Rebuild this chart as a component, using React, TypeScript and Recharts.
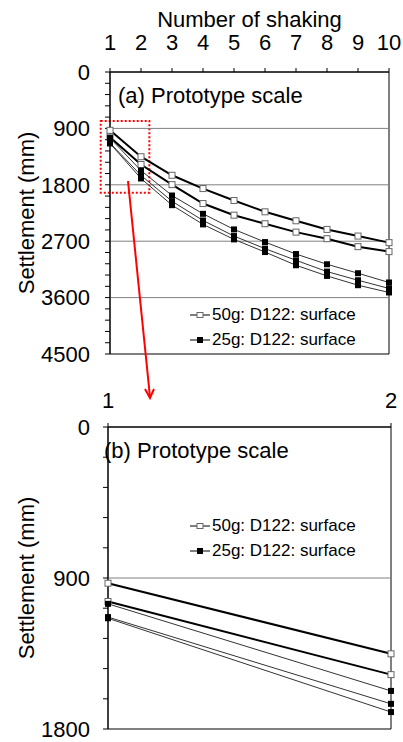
import { LineChart, Line, XAxis, YAxis, ReferenceLine, ReferenceArea, Legend } from "recharts";

// Number of shaking events
const shakes = [1, 2, 3, 4, 5, 6, 7, 8, 9, 10];

// Settlement (mm)
const open50a = [931, 1352, 1648, 1860, 2051, 2231, 2374, 2512, 2618, 2723];
const open50b = [1040, 1476, 1797, 2099, 2285, 2421, 2555, 2660, 2787, 2866];
const fill25a = [1054, 1573, 1971, 2263, 2512, 2714, 2905, 3068, 3211, 3359];
const fill25b = [1133, 1650, 2062, 2369, 2618, 2819, 3005, 3185, 3323, 3454];
const fill25c = [1140, 1699, 2125, 2432, 2671, 2873, 3084, 3254, 3402, 3518];

const topMajor = [0, 900, 1800, 2700, 3600, 4500];
const bottomMajor = [0, 900, 1800];
const minorStep = 180;

const legendNames = ["50g: D122: surface", "25g: D122: surface"];

const rows = shakes.map((n, i) => ({
  n,
  a: open50a[i],
  b: open50b[i],
  c: fill25a[i],
  d: fill25b[i],
  e: fill25c[i],
}));
const zoomRows = rows.slice(0, 2);

const withMinor = (major: number[]) => {
  const max = major[major.length - 1];
  const out: number[] = [];
  for (let v = 0; v <= max; v += minorStep) out.push(v);
  return out;
};

const font = "'Liberation Sans', Arial, sans-serif";

const OpenSquare = (props: any) => {
  const { cx, cy } = props;
  if (cx == null || cy == null) return <g key={`o-${cx}-${cy}`} />;
  return (
    <rect key={`o-${cx}-${cy}`} x={cx - 3} y={cy - 3} width={6} height={6} fill="#fff" stroke="#666" strokeWidth={1} />
  );
};

const FilledSquare = (props: any) => {
  const { cx, cy } = props;
  if (cx == null || cy == null) return <g key={`f-${cx}-${cy}`} />;
  return <rect key={`f-${cx}-${cy}`} x={cx - 3} y={cy - 3} width={6} height={6} fill="#000" />;
};

const LegendBox = ({ payload }: any) => {
  const items = (payload || [])
    .filter((e: any) => e.type !== "none" && legendNames.includes(e.value))
    .sort((p: any, q: any) => legendNames.indexOf(p.value) - legendNames.indexOf(q.value));
  return (
    <div style={{ fontFamily: font, fontSize: 17, color: "#000" }}>
      {items.map((entry: any) => {
        const open = entry.value === legendNames[0];
        return (
          <div key={entry.value} style={{ display: "flex", alignItems: "center", height: 24.5 }}>
            <svg width={21} height={10} style={{ marginRight: 1 }}>
              <line x1={0} y1={5} x2={20} y2={5} stroke="#000" strokeWidth={1} />
              {open ? (
                <rect x={7} y={2.5} width={6} height={5} fill="#fff" stroke="#666" />
              ) : (
                <rect x={7} y={2} width={6} height={6} fill="#000" />
              )}
            </svg>
            <span>{entry.value}</span>
          </div>
        );
      })}
    </div>
  );
};

function Series() {
  return [
    <Line key="a" dataKey="a" name={legendNames[0]} stroke="#000" strokeWidth={2} dot={OpenSquare} isAnimationActive={false} />,
    <Line key="b" dataKey="b" legendType="none" stroke="#000" strokeWidth={2} dot={OpenSquare} isAnimationActive={false} />,
    <Line key="c" dataKey="c" name={legendNames[1]} stroke="#333" strokeWidth={1} dot={FilledSquare} isAnimationActive={false} />,
    <Line key="d" dataKey="d" legendType="none" stroke="#333" strokeWidth={1} dot={FilledSquare} isAnimationActive={false} />,
    <Line key="e" dataKey="e" legendType="none" stroke="#333" strokeWidth={1} dot={FilledSquare} isAnimationActive={false} />,
  ];
}

const tickStyle = { fill: "#000", fontSize: 22 };

export default function App() {
  const topTicks = withMinor(topMajor);
  const bottomTicks = withMinor(bottomMajor);
  const fmt = (major: number[]) => (v: number) => (major.includes(v) ? String(v) : "");

  return (
    <div style={{ position: "absolute", left: 0, top: 0, width: 403, height: 742, background: "#fff", fontFamily: font }}>
      <div style={{ position: "absolute", left: 0, top: 0 }}>
        <LineChart width={403} height={372} data={rows} margin={{ top: 0, right: 14, bottom: 18, left: 0 }}>
          <XAxis
            dataKey="n"
            type="number"
            orientation="top"
            domain={[1, 10]}
            ticks={shakes}
            interval={0}
            height={72}
            stroke="#000"
            tick={tickStyle}
            tickSize={4}
            tickMargin={18}
            label={{ value: "Number of shaking", position: "insideTop", offset: 11, fill: "#000", fontSize: 22 }}
          />
          <YAxis
            type="number"
            reversed
            domain={[0, 4500]}
            ticks={topTicks}
            interval={0}
            width={110}
            stroke="#000"
            tick={tickStyle}
            tickSize={5}
            tickMargin={15}
            tickFormatter={fmt(topMajor)}
            label={{ value: "Settlement (mm)", angle: -90, position: "insideLeft", offset: 26, fill: "#000", fontSize: 22, style: { textAnchor: "middle" } }}
          />
          {topMajor.slice(1, -1).map((v) => (
            <ReferenceLine key={v} y={v} stroke="#808080" strokeWidth={1} />
          ))}
          <ReferenceArea
            x1={1}
            x2={10}
            y1={0}
            y2={4500}
            fill="none"
            stroke="#000"
            strokeWidth={1}
            label={{ value: "(a) Prototype scale", position: "insideTopLeft", offset: 0, dx: 8, dy: 15, fill: "#000", fontSize: 22 }}
          />
          {Series()}
          <ReferenceArea
            x1={0.7}
            x2={2.27}
            y1={780}
            y2={1925}
            ifOverflow="visible"
            fill="none"
            stroke="#ff0000"
            strokeWidth={2}
            strokeDasharray="2 2"
          />
          <Legend
            layout="vertical"
            align="center"
            verticalAlign="middle"
            content={LegendBox}
            wrapperStyle={{ left: 190, top: 303, width: 200 }}
          />
        </LineChart>
      </div>
      <div style={{ position: "absolute", left: 0, top: 372 }}>
        <LineChart width={403} height={369} data={zoomRows} margin={{ top: 0, right: 12, bottom: 12, left: 0 }}>
          <XAxis
            dataKey="n"
            type="number"
            orientation="top"
            domain={[1, 2]}
            ticks={[1, 2]}
            interval={0}
            height={55}
            stroke="#000"
            tick={tickStyle}
            tickSize={4}
            tickMargin={15}
          />
          <YAxis
            type="number"
            reversed
            domain={[0, 1800]}
            ticks={bottomTicks}
            interval={0}
            width={108}
            stroke="#000"
            tick={tickStyle}
            tickSize={5}
            tickMargin={13}
            tickFormatter={fmt(bottomMajor)}
            label={{ value: "Settlement (mm)", angle: -90, position: "insideLeft", offset: 26, fill: "#000", fontSize: 22, style: { textAnchor: "middle" } }}
          />
          <ReferenceLine y={900} stroke="#808080" strokeWidth={1} />
          <ReferenceArea
            x1={1}
            x2={2}
            y1={0}
            y2={1800}
            fill="none"
            stroke="#000"
            strokeWidth={1}
            label={{ value: "(b) Prototype scale", position: "insideTopLeft", offset: 0, dx: -4, dy: 15, fill: "#000", fontSize: 22 }}
          />
          {Series()}
          <Legend
            layout="vertical"
            align="center"
            verticalAlign="middle"
            content={LegendBox}
            wrapperStyle={{ left: 190, top: 142, width: 200 }}
          />
        </LineChart>
      </div>
      <svg width={403} height={742} style={{ position: "absolute", left: 0, top: 0, pointerEvents: "none" }}>
        <line x1={128} y1={181} x2={150} y2={397} stroke="#ff0000" strokeWidth={2} />
        <polyline points="145,389 150,398 154,389" fill="none" stroke="#ff0000" strokeWidth={2} />
      </svg>
    </div>
  );
}
